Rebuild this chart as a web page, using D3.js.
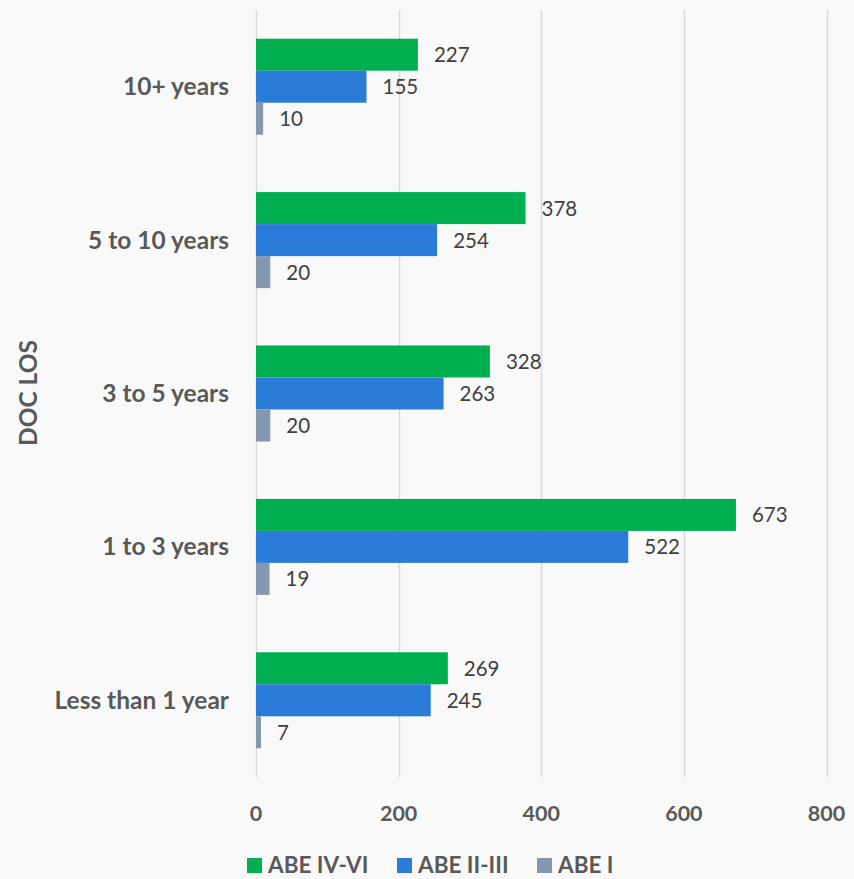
<!DOCTYPE html>
<html>
<head>
<meta charset="utf-8">
<script src="https://cdn.jsdelivr.net/npm/d3@7"></script>
<style>
  html, body { margin: 0; padding: 0; background: #f9f9f9; }
  svg { display: block; }
  text { font-family: Lato, "Open Sans", sans-serif; }
</style>
</head>
<body>
<svg id="chart" width="854" height="879"></svg>
<script>
const categories = ["10+ years", "5 to 10 years", "3 to 5 years", "1 to 3 years", "Less than 1 year"];
const seriesNames = ["ABE IV-VI", "ABE II-III", "ABE I"];
const abeIVVI = [227, 378, 328, 673, 269];
const abeIIIII = [155, 254, 263, 522, 245];
const abeI = [10, 20, 20, 19, 7];
const xTicks = [0, 200, 400, 600, 800];
const colors = ["#00b050", "#2b7cd8", "#8497b0"];
const axisTitle = "DOC LOS";

const seriesValues = [abeIVVI, abeIIIII, abeI];
const svg = d3.select("#chart");
const W = 854, H = 879;
svg.append("rect").attr("width", W).attr("height", H).attr("fill", "#f9f9f9");

const x = d3.scaleLinear().domain([0, 800]).range([256, 826.5]);
const y = d3.scaleBand().domain(categories).range([10, 777]).paddingInner(0.374).paddingOuter(0.187);
const ys = d3.scaleBand().domain(seriesNames).range([0, y.bandwidth()]);

// gridlines
svg.append("g").selectAll("line").data(xTicks).join("line")
  .attr("x1", d => Math.round(x(d)) + 0.5).attr("x2", d => Math.round(x(d)) + 0.5)
  .attr("y1", 10).attr("y2", 777)
  .attr("stroke", "#d9d9d9").attr("stroke-width", 1.5);

// bars
const rows = [];
categories.forEach((c, i) => {
  seriesNames.forEach((s, j) => rows.push({cat: c, series: s, value: seriesValues[j][i], color: colors[j]}));
});
svg.append("g").selectAll("rect").data(rows).join("rect")
  .attr("x", x(0))
  .attr("y", d => y(d.cat) + ys(d.series))
  .attr("width", d => x(d.value) - x(0))
  .attr("height", ys.bandwidth())
  .attr("fill", d => d.color);

// value labels
svg.append("g").selectAll("text").data(rows).join("text")
  .attr("x", d => x(d.value) + 16)
  .attr("y", d => y(d.cat) + ys(d.series) + ys.bandwidth() / 2 + 7.5)
  .attr("font-size", 20.5)
  .attr("fill", "#404040")
  .text(d => d.value);

// category labels
svg.append("g").selectAll("text").data(categories).join("text")
  .attr("x", 229)
  .attr("y", d => y(d) + y.bandwidth() / 2 + 8.5)
  .attr("text-anchor", "end")
  .attr("font-size", 24.5)
  .attr("font-weight", "bold")
  .attr("fill", "#595959")
  .text(d => d);

// x tick labels
svg.append("g").selectAll("text").data(xTicks).join("text")
  .attr("x", d => x(d))
  .attr("y", 821)
  .attr("text-anchor", "middle")
  .attr("font-size", 21.5)
  .attr("font-weight", "bold")
  .attr("fill", "#595959")
  .text(d => d);

// y axis title
svg.append("text")
  .attr("transform", "translate(37,393) rotate(-90)")
  .attr("text-anchor", "middle")
  .attr("font-size", 24.5)
  .attr("font-weight", "bold")
  .attr("fill", "#595959")
  .text(axisTitle);

// legend
const legendX = [247, 397, 537];
const lg = svg.append("g").selectAll("g").data(seriesNames).join("g")
  .attr("transform", (d, i) => `translate(${legendX[i]},858)`);
lg.append("rect").attr("width", 15).attr("height", 15).attr("fill", (d, i) => colors[i]);
lg.append("text").attr("x", 21).attr("y", 15)
  .attr("font-size", 22.5).attr("font-weight", "bold").attr("fill", "#595959")
  .text(d => d);
</script>
</body>
</html>
